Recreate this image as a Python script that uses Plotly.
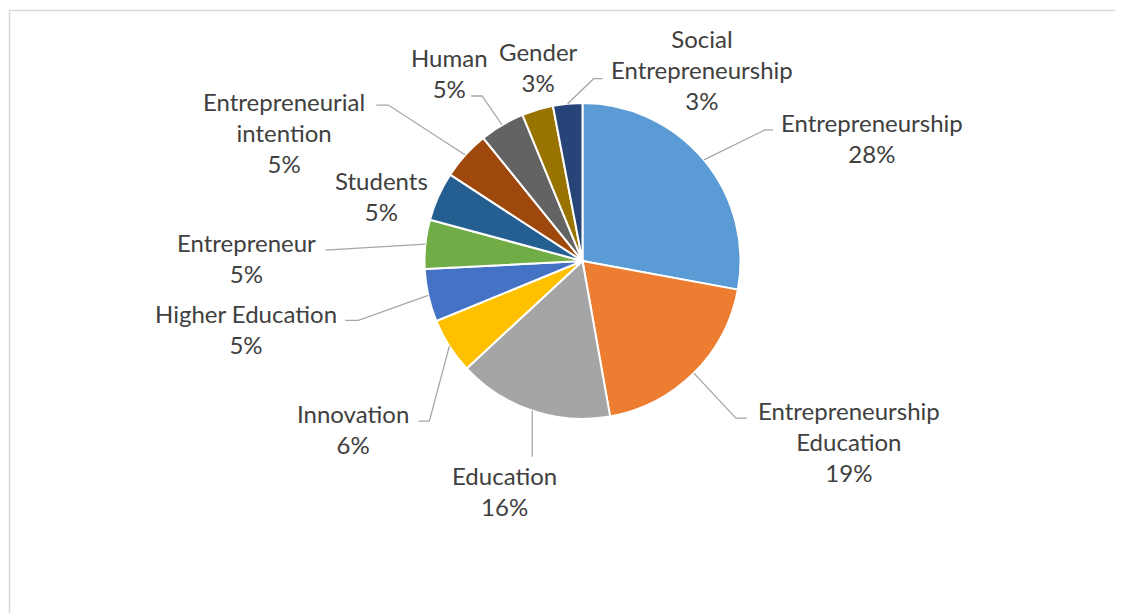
import math
import plotly.graph_objects as go

# ---- data ----
categories = ["Entrepreneurship", "Entrepreneurship Education", "Education", "Innovation",
              "Higher Education", "Entrepreneur", "Students", "Entrepreneurial intention",
              "Human", "Gender", "Social Entrepreneurship"]
label_text = ["Entrepreneurship", "Entrepreneurship<br>Education", "Education", "Innovation",
              "Higher Education", "Entrepreneur", "Students", "Entrepreneurial<br>intention",
              "Human", "Gender", "Social<br>Entrepreneurship"]
values = [27.9, 19.3, 15.9, 5.7, 5.4, 5.0, 5.0, 5.0, 4.6, 3.2, 3.0]
colors = ["#5B9BD5", "#ED7D31", "#A5A5A5", "#FFC000", "#4472C4", "#70AD47",
          "#255E91", "#9E480E", "#636363", "#997300", "#264478"]

# ---- label layout (pixel offsets from each slice's edge anchor) ----
text_off = [(168, -22), (155, 68), (-28, 80), (-96, 83), (-182, 34), (-179, 14),
            (-57, 0), (-181, -23), (-53, -52), (1.5, -43), (134, -34)]
leader = [[(61, -30), (69, -30)], [(42, 45), (53, 45)], [(0, 46)], [(-20, 75), (-31, 75)],
          [(-70, 25), (-83, 25)], [(-100, 6)], None, [(-77, -50), (-89, -50)],
          [(-20, -29), (-31, -29)], None, [(26, -25), (35, -25)]]

OFF = 8  # page body margin
W, H = 1123 - OFF, 613 - OFF
CX, CY, R = 582.5 - OFF, 261.0 - OFF, 158.0

fig = go.Figure(go.Pie(
    labels=categories, values=values, sort=False, direction="clockwise", rotation=0,
    marker=dict(colors=colors, line=dict(color="white", width=2)),
    textinfo="none", hoverinfo="label+percent", showlegend=False,
    domain=dict(x=[(CX - R) / W, (CX + R) / W], y=[1 - (CY + R) / H, 1 - (CY - R) / H]),
))

total = sum(values)
cum = 0.0
annotations = []
shapes = []
def px2paper(x, y):
    return x / W, 1 - y / H

for i, v in enumerate(values):
    mid = (cum + v / 2) / total * 2 * math.pi
    cum += v
    ax = CX + R * math.sin(mid)
    ay = CY - R * math.cos(mid)
    pct = f"{round(v / total * 100)}%"
    tx, ty = text_off[i]
    px, py = px2paper(ax, ay)
    annotations.append(dict(
        x=px, y=py, xref="paper", yref="paper", xshift=tx, yshift=-ty,
        text=f"{label_text[i]}<br>{pct}", showarrow=False,
        xanchor="center", yanchor="middle", align="center",
        font=dict(family="Lato", size=24, color="#404040"),
    ))
    if leader[i]:
        pts = [(ax, ay)] + [(ax + dx, ay + dy) for dx, dy in leader[i]]
        path = ""
        for j, (x, y) in enumerate(pts):
            qx, qy = px2paper(x, y)
            path += ("M" if j == 0 else " L") + f" {qx:.5f},{qy:.5f}"
        shapes.append(dict(type="path", path=path, xref="paper", yref="paper",
                           line=dict(color="#A6A6A6", width=1.3)))

shapes.append(dict(type="rect", xref="paper", yref="paper",
                   x0=(9.5 - OFF) / W, y0=-0.05, x1=1.05, y1=1 - (10.5 - OFF) / H,
                   line=dict(color="#D9D9D9", width=1.5), layer="below"))

fig.update_layout(width=W, height=H, margin=dict(l=0, r=0, t=0, b=0),
                  paper_bgcolor="white", plot_bgcolor="white",
                  annotations=annotations, shapes=shapes)
fig.write_html("out.html")
